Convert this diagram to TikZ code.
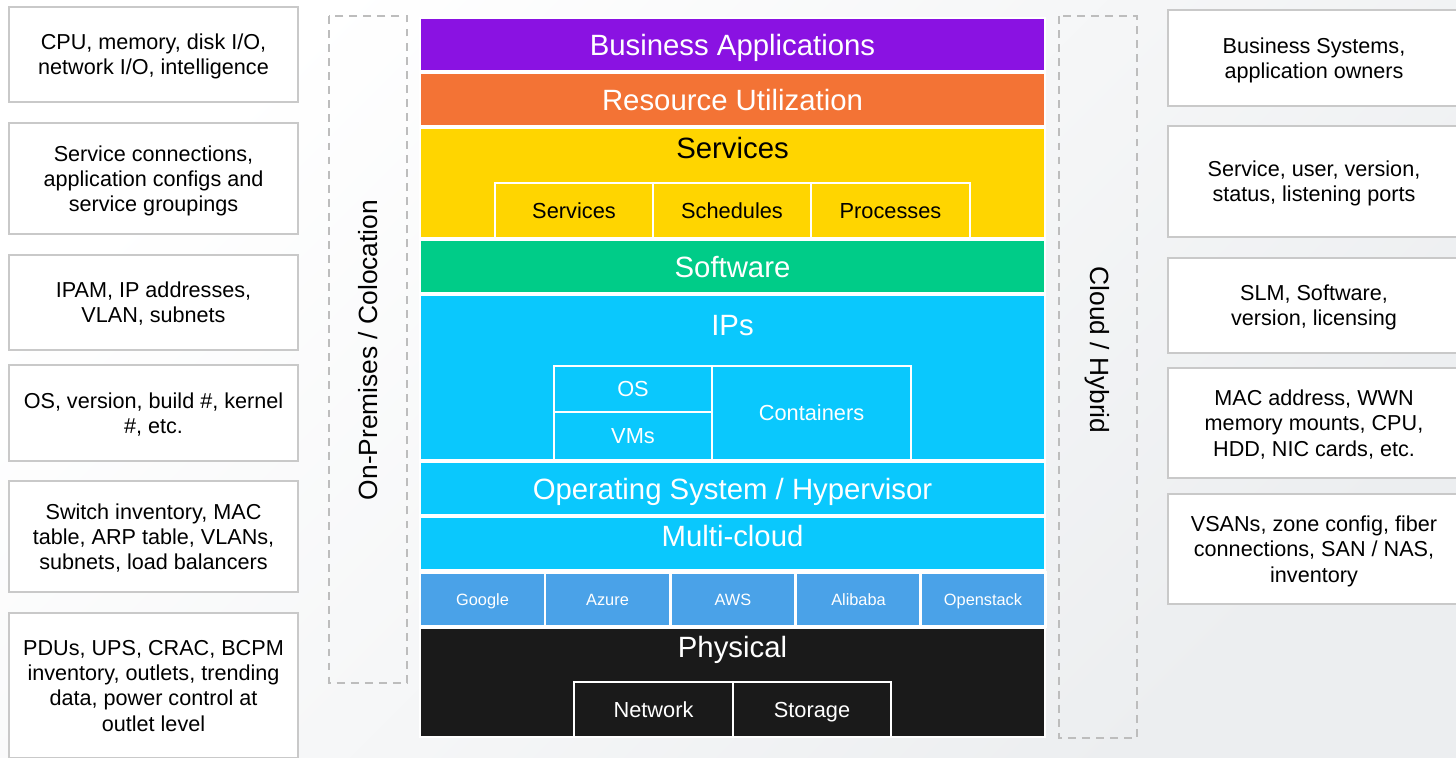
\documentclass[tikz,border=0pt]{standalone}
\usepackage{fontspec}
\setmainfont{Liberation Sans}
\usetikzlibrary{positioning}
\definecolor{bizpurple}{HTML}{8A12E2}
\definecolor{resorange}{HTML}{F37335}
\definecolor{svcyellow}{HTML}{FFD500}
\definecolor{swgreen}{HTML}{00CC88}
\definecolor{ipcyan}{HTML}{0AC8FD}
\definecolor{cloudblue}{HTML}{4AA2E8}
\definecolor{physblack}{HTML}{1A1A1A}
\definecolor{boxgray}{HTML}{C9C9C9}
\definecolor{dashgray}{HTML}{BDBDBD}
\definecolor{bggray}{HTML}{ECEEF0}
\def\px{0.02cm}
\begin{document}
\begin{tikzpicture}[x=0.02cm,y=-0.02cm,
                    layer/.style={rectangle,draw=white,line width=1.2pt,inner sep=0pt,
                      minimum width=625*\px,text=white,text height=12pt,text depth=0pt,
                      font=\fontsize{16.7}{20}\selectfont},
                    layertitle/.style={inner sep=0pt,text height=12pt,text depth=0pt,
                      font=\fontsize{16.7}{20}\selectfont},
                    sublayer/.style={rectangle,draw=white,line width=1.2pt,inner sep=0pt,
                      text height=8.9pt,text depth=0pt,font=\fontsize{12.4}{15}\selectfont},
                    provider/.style={sublayer,fill=cloudblue,text=white,minimum width=125*\px,
                      minimum height=54*\px,text height=6.7pt,font=\fontsize{9.3}{11}\selectfont},
                    infobox/.style={rectangle,draw=boxgray,line width=1pt,fill=white,
                      align=center,inner sep=2pt,text depth=0pt,font=\fontsize{12.3}{14.4}\selectfont},
                    zone/.style={draw=dashgray,line width=0.8pt,dash pattern=on 4.5pt off 3.5pt},
                    zonelabel/.style={font=\fontsize{15}{18}\selectfont}]
\useasboundingbox (0,0) rectangle (1456,757);
\shade[top color=white,bottom color=bggray,shading angle=45] (0,0) rectangle (1456,757);

% left column
\node [infobox,minimum width=289*\px,minimum height=95*\px]  (cpu)    at (153.5,54.5)  {CPU, memory, disk I/O,\\network I/O, intelligence};
\node [infobox,minimum width=289*\px,minimum height=111*\px] (svcconn) at (153.5,178.5) {Service connections,\\application configs and\\service groupings};
\node [infobox,minimum width=289*\px,minimum height=95*\px]  (ipam)   at (153.5,302.5) {IPAM, IP addresses,\\VLAN, subnets};
\node [infobox,minimum width=289*\px,minimum height=96*\px]  (osver)  at (153.5,413)   {OS, version, build \#, kernel\\\#, etc.};
\node [infobox,minimum width=289*\px,minimum height=111*\px] (switch) at (153.5,536.5) {Switch inventory, MAC\\table, ARP table, VLANs,\\subnets, load balancers};
\node [infobox,minimum width=289*\px,minimum height=145*\px] (pdus)   at (153.5,685.5) {PDUs, UPS, CRAC, BCPM\\inventory, outlets, trending\\data, power control at\\outlet level};

% right column
\node [infobox,minimum width=292*\px,minimum height=96*\px]  (bizsys) at (1314,58)    {Business Systems,\\application owners};
\node [infobox,minimum width=292*\px,minimum height=111*\px] (svcuser) at (1314,181.5) {Service, user, version,\\status, listening ports};
\node [infobox,minimum width=292*\px,minimum height=95*\px]  (slm)    at (1314,305.5)  {SLM, Software,\\version, licensing};
\node [infobox,minimum width=292*\px,minimum height=110*\px] (mac)    at (1314,423)    {MAC address, WWN\\memory mounts, CPU,\\HDD, NIC cards, etc.};
\node [infobox,minimum width=292*\px,minimum height=110*\px] (vsan)   at (1314,549)    {VSANs, zone config, fiber\\connections, SAN / NAS,\\inventory};

% dashed zones
\draw [zone] (329,16) rectangle (407,683);
\draw [zone] (1059,16) rectangle (1137,738);
\node [zonelabel,rotate=90]  (onprem) at (368,350)  {On-Premises / Colocation};
\node [zonelabel,rotate=-90] (cloud)  at (1097,350) {Cloud / Hybrid};

% stack
\node [layer,fill=bizpurple,minimum height=53*\px]  (bizapps)  at (732.5,44.5)  {Business Applications};
\node [layer,fill=resorange,minimum height=53*\px]  (resutil)  at (732.5,99.5)  {Resource Utilization};
\node [layer,fill=svcyellow,minimum height=110*\px] (services) at (732.5,183)   {};
\node [layertitle,text=black] (svctitle) at (732.5,147.5) {Services};
\node [sublayer,fill=svcyellow,minimum width=158*\px,minimum height=55*\px] (svc)   at (574,210.5)   {Services};
\node [sublayer,fill=svcyellow,minimum width=158*\px,minimum height=55*\px] (sched) at (732,210.5)   {Schedules};
\node [sublayer,fill=svcyellow,minimum width=159*\px,minimum height=55*\px] (proc)  at (890.5,210.5) {Processes};
\node [layer,fill=swgreen,minimum height=53*\px]    (software) at (732.5,266.5) {Software};
\node [layer,fill=ipcyan,minimum height=165*\px]    (ips)      at (732.5,377.5) {};
\node [layertitle,text=white] (iptitle) at (732.5,325) {IPs};
\node [sublayer,fill=ipcyan,text=white,minimum width=158*\px,minimum height=46*\px] (os)    at (633,389)   {OS};
\node [sublayer,fill=ipcyan,text=white,minimum width=158*\px,minimum height=48*\px] (vms)   at (633,436)   {VMs};
\node [sublayer,fill=ipcyan,text=white,minimum width=199*\px,minimum height=94*\px] (contr) at (811.5,413) {Containers};
\node [layer,fill=ipcyan,minimum height=53*\px]     (oshyp)    at (732.5,488.5) {Operating System / Hypervisor};
\node [layer,fill=ipcyan,minimum height=53*\px,text depth=8.5pt] (multi) at (732.5,543.5) {Multi-cloud};
\node [provider] (google)    at (482.5,599.5) {Google};
\node [provider] (azure)     at (607.5,599.5) {Azure};
\node [provider] (aws)       at (733,599.5)   {AWS};
\node [provider] (alibaba)   at (858.5,599.5) {Alibaba};
\node [provider] (openstack) at (983,599.5)   {Openstack};
\node [layer,fill=physblack,minimum height=109*\px] (physical) at (732.5,682.5) {};
\node [layertitle,text=white] (phystitle) at (732.5,647) {Physical};
\node [sublayer,fill=physblack,text=white,minimum width=159*\px,minimum height=55*\px] (network) at (653.5,709.5) {Network};
\node [sublayer,fill=physblack,text=white,minimum width=158*\px,minimum height=55*\px] (storage) at (812,709.5)   {Storage};
\end{tikzpicture}
\end{document}
